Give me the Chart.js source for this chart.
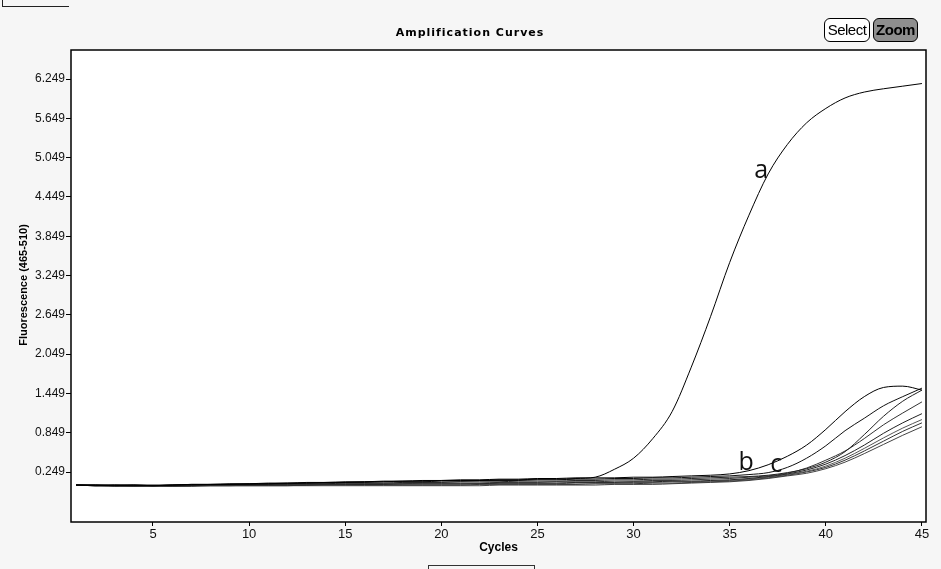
<!DOCTYPE html>
<html>
<head>
<meta charset="utf-8">
<script src="https://cdn.jsdelivr.net/npm/chart.js@4.4.0/dist/chart.umd.min.js"></script>
<style>
  html, body { margin: 0; padding: 0; background: #f6f6f6; }
  #wrap { position: relative; width: 941px; height: 569px; overflow: hidden; }
  canvas { position: absolute; left: 0; top: 0; }
  .btn {
    position: absolute; top: 18px; height: 24px; box-sizing: border-box;
    border: 1.5px solid #000; border-radius: 6px;
    font: 15px "Liberation Sans", Arial, sans-serif; line-height: 21px;
    text-align: center; color: #000; letter-spacing: -0.5px;
  }
  #bSelect { left: 824px; width: 46px; background: #fff; }
  #bZoom { left: 873px; width: 45px; background: #8e8e8e; font-weight: bold; }
  #tab { position: absolute; left: 2px; top: 0; width: 66px; height: 6px; border-bottom: 1.5px solid #222; border-left: 1.5px solid #222; }
  #foot { position: absolute; left: 428px; top: 565px; width: 105px; height: 10px; border: 1px solid #333; }
</style>
</head>
<body>
<div id="wrap">
  <canvas id="chart" width="941" height="569"></canvas>
  <div id="tab"></div>
  <div class="btn" id="bSelect">Select</div>
  <div class="btn" id="bZoom">Zoom</div>
  <div id="foot"></div>
</div>
<script>
// cycles and fluorescence readings
var cycles = [1,2,3,4,5,6,7,8,9,10,11,12,13,14,15,16,17,18,19,20,21,22,23,24,25,26,27,28,29,30,31,32,33,34,35,36,37,38,39,40,41,42,43,44,45];

var curveA = [0.05,0.04,0.05,0.05,0.04,0.05,0.06,0.06,0.06,0.07,
              0.07,0.08,0.08,0.09,0.09,0.10,0.10,0.11,0.11,0.12,
              0.12,0.12,0.13,0.13,0.14,0.14,0.15,
              0.17,0.29,0.46,0.76,1.17,1.85,2.62,3.45,4.17,4.80,
              5.25,5.58,5.80,5.96,6.05,6.10,6.14,6.18];
var curveB = [0.05,0.05,0.04,0.05,0.05,0.05,0.06,0.06,0.07,0.07,
              0.08,0.08,0.09,0.09,0.10,0.10,0.11,0.11,0.12,0.12,
              0.13,0.13,0.14,0.14,0.15,0.15,0.16,0.16,0.16,0.17,
              0.17,0.18,0.19,0.20,0.22,0.27,0.36,0.49,0.66,0.90,
              1.17,1.40,1.54,1.56,1.50];
var curveC = [0.05,0.05,0.05,0.05,0.04,0.05,0.05,0.06,0.06,0.06,
              0.07,0.07,0.08,0.08,0.09,0.09,0.10,0.10,0.10,0.11,
              0.11,0.12,0.12,0.12,0.13,0.13,0.14,0.14,0.15,0.15,
              0.16,0.16,0.17,0.18,0.19,0.21,0.24,0.32,0.46,0.65,
              0.88,1.07,1.26,1.40,1.53];
var curveD = [0.05,0.05,0.05,0.04,0.04,0.05,0.05,0.05,0.06,0.06,
              0.06,0.07,0.07,0.07,0.08,0.08,0.08,0.09,0.09,0.09,
              0.10,0.10,0.10,0.11,0.11,0.11,0.12,0.12,0.13,0.13,
              0.14,0.14,0.15,0.16,0.17,0.18,0.20,0.24,0.30,0.40,
              0.56,0.82,1.10,1.33,1.50];
var curveE = [0.05,0.04,0.04,0.04,0.04,0.04,0.05,0.05,0.05,0.05,
              0.06,0.06,0.06,0.06,0.07,0.07,0.07,0.07,0.08,0.08,
              0.08,0.08,0.09,0.09,0.09,0.10,0.10,0.10,0.11,0.11,
              0.12,0.12,0.13,0.14,0.15,0.17,0.19,0.23,0.31,0.43,
              0.57,0.76,0.97,1.15,1.32];
var curveF = [0.05,0.05,0.04,0.04,0.04,0.04,0.04,0.05,0.05,0.05,
              0.05,0.05,0.05,0.06,0.06,0.06,0.06,0.07,0.07,0.07,
              0.07,0.07,0.08,0.08,0.08,0.08,0.09,0.09,0.09,0.10,
              0.10,0.11,0.11,0.12,0.13,0.15,0.18,0.22,0.28,0.37,
              0.50,0.66,0.84,1.00,1.14];
var curveG = [0.05,0.04,0.04,0.04,0.03,0.04,0.04,0.04,0.04,0.05,
              0.05,0.05,0.05,0.05,0.05,0.06,0.06,0.06,0.06,0.06,
              0.06,0.07,0.07,0.07,0.07,0.07,0.08,0.08,0.08,0.09,
              0.09,0.10,0.10,0.11,0.12,0.14,0.17,0.21,0.26,0.34,
              0.46,0.61,0.77,0.92,1.05];
var curveH = [0.05,0.04,0.04,0.03,0.03,0.03,0.04,0.04,0.04,0.04,
              0.04,0.04,0.05,0.05,0.05,0.05,0.05,0.05,0.05,0.05,
              0.05,0.06,0.06,0.06,0.06,0.06,0.06,0.07,0.07,0.07,
              0.08,0.08,0.09,0.10,0.11,0.13,0.16,0.20,0.25,0.32,
              0.43,0.57,0.72,0.87,1.00];
var curveI = [0.05,0.04,0.03,0.03,0.03,0.03,0.03,0.04,0.04,0.04,
              0.04,0.04,0.04,0.04,0.04,0.04,0.04,0.04,0.04,0.04,
              0.04,0.04,0.05,0.05,0.05,0.05,0.05,0.05,0.06,0.06,
              0.06,0.07,0.08,0.09,0.10,0.12,0.15,0.19,0.23,0.30,
              0.40,0.53,0.67,0.81,0.94];

var allCurves = [curveA, curveB, curveC, curveD, curveE, curveF, curveG, curveH, curveI];
var curveColors = ['#000','#000','#111','#222','#333','#222','#555','#333','#444'];

var xTicks = [5,10,15,20,25,30,35,40,45];
var yTicks = [0.249,0.849,1.449,2.049,2.649,3.249,3.849,4.449,5.049,5.649,6.249];

// letters written on the curves
var noteText = ['a','b','c'];
var noteX = [36.64, 35.86, 37.42];
var noteY = [4.74, 0.28, 0.25];

var datasets = [];
for (var k = 0; k < allCurves.length; k++) {
    datasets.push({
        data: allCurves[k].map(function(v, i){ return {x: cycles[i], y: v}; }),
        borderColor: curveColors[k],
        borderWidth: 1,
        pointRadius: 0,
        cubicInterpolationMode: 'monotone',
        fill: false
    });
}

var decor = {
    id: 'decor',
    beforeDraw: function(chart){
        var c = chart.ctx, a = chart.chartArea;
        c.save();
        c.fillStyle = '#ffffff';
        c.fillRect(a.left, a.top, a.right - a.left, a.bottom - a.top);
        c.restore();
    },
    afterDraw: function(chart){
        var c = chart.ctx, a = chart.chartArea;
        var xs = chart.scales.x, ys = chart.scales.y;
        c.save();
        c.strokeStyle = '#000';
        c.lineWidth = 1.5;
        c.strokeRect(a.left, a.top, a.right - a.left, a.bottom - a.top);

        // title
        c.fillStyle = '#000';
        c.font = 'bold 11px "DejaVu Sans"';
        c.letterSpacing = '1px';
        c.textAlign = 'center';
        c.textBaseline = 'middle';
        c.fillText('Amplification Curves', 470, 33);
        c.letterSpacing = '0px';

        // axis titles
        c.font = 'bold 12px "Liberation Sans"';
        c.fillText('Cycles', (a.left + a.right) / 2, 548);
        c.translate(24, 285);
        c.rotate(-Math.PI / 2);
        c.font = 'bold 11px "Liberation Sans"';
        c.fillText('Fluorescence (465-510)', 0, 0);
        c.restore();

        // letters
        c.save();
        c.fillStyle = '#111';
        c.font = '25px "Open Sans"';
        c.textAlign = 'center';
        c.textBaseline = 'alphabetic';
        for (var i = 0; i < noteText.length; i++) {
            c.fillText(noteText[i], xs.getPixelForValue(noteX[i]), ys.getPixelForValue(noteY[i]));
        }
        c.restore();
    }
};

var ctx = document.getElementById('chart').getContext('2d');
var myChart = new Chart(ctx, {
    type: 'line',
    data: { datasets: datasets },
    plugins: [decor],
    options: {
        responsive: false,
        animation: false,
        events: [],
        layout: { padding: { left: 0, top: 50, right: 15, bottom: 0 } },
        plugins: { legend: { display: false }, tooltip: { enabled: false } },
        scales: {
            x: {
                type: 'linear',
                min: 0.735, max: 45.21,
                afterBuildTicks: function(s){ s.ticks = xTicks.map(function(v){ return {value: v}; }); },
                afterFit: function(s){ s.height = 47; },
                border: { display: false },
                grid: { drawOnChartArea: false, drawTicks: true, tickLength: 4, color: '#000' },
                ticks: { padding: 1, color: '#111', font: { family: 'Liberation Sans', size: 13 }, maxRotation: 0 }
            },
            y: {
                type: 'linear',
                min: -0.514, max: 6.692,
                afterBuildTicks: function(s){ s.ticks = yTicks.map(function(v){ return {value: v}; }); },
                afterFit: function(s){ s.width = 71; },
                border: { display: false },
                grid: { drawOnChartArea: false, drawTicks: true, tickLength: 5, color: '#000' },
                ticks: {
                    padding: 1, color: '#111', font: { family: 'Liberation Sans', size: 12 },
                    callback: function(v){ return v.toFixed(3); }
                }
            }
        }
    }
});
</script>
</body>
</html>
